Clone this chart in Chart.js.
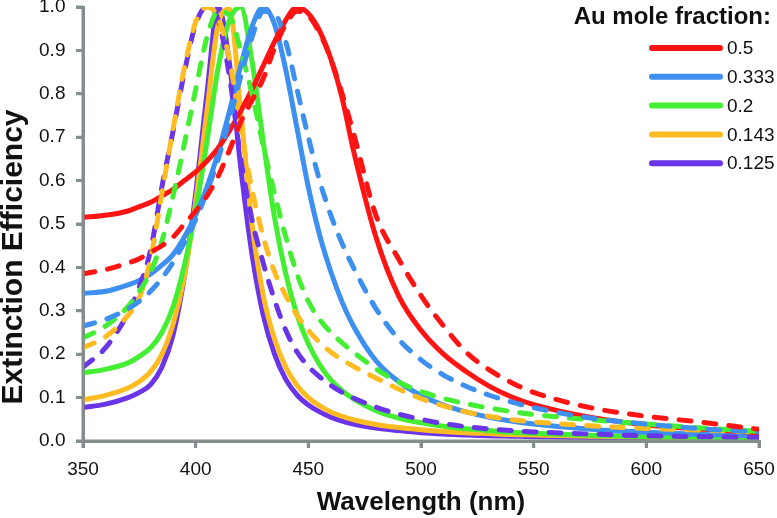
<!DOCTYPE html>
<html>
<head>
<meta charset="utf-8">
<script src="https://cdn.jsdelivr.net/npm/chart.js@4.4.1/dist/chart.umd.min.js"></script>
<style>
  html, body { margin: 0; padding: 0; background: #fff; }
  #wrap { width: 777px; height: 518px; }
</style>
</head>
<body>
<div id="wrap"><canvas id="spectra" width="777" height="518"></canvas></div>
<script>
// wavelength grid (nm) the curves were read at
const wavelength = [350, 360, 370, 375, 380, 385, 390, 395, 400, 405, 410, 415, 420, 425, 430, 435, 440, 445,
    450, 455, 460, 465, 470, 480, 490, 500, 510, 520, 530, 540, 550, 575, 600, 625, 650];

// Au mole fraction 0.5
const solid05 = [0.515, 0.52, 0.53, 0.54, 0.55, 0.565, 0.58, 0.60, 0.62, 0.645, 0.675, 0.715, 0.76, 0.81, 0.865, 0.92, 0.97, 1.0,
    0.985, 0.945, 0.88, 0.79, 0.67, 0.47, 0.335, 0.255, 0.2, 0.16, 0.127, 0.102, 0.084, 0.055, 0.037, 0.027, 0.019];
const dashed05 = [0.385, 0.395, 0.41, 0.42, 0.435, 0.45, 0.47, 0.5, 0.53, 0.565, 0.61, 0.67, 0.735, 0.785, 0.835, 0.905, 0.96, 0.99,
    0.98, 0.94, 0.88, 0.8, 0.71, 0.52, 0.42, 0.335, 0.265, 0.205, 0.165, 0.135, 0.112, 0.077, 0.057, 0.043, 0.027];
// 0.333
const solid0333 = [0.34, 0.345, 0.36, 0.37, 0.385, 0.405, 0.43, 0.47, 0.52, 0.585, 0.665, 0.76, 0.865, 0.955, 1.0, 0.96, 0.855, 0.72,
    0.585, 0.475, 0.39, 0.32, 0.265, 0.185, 0.137, 0.105, 0.083, 0.067, 0.055, 0.046, 0.039, 0.027, 0.02, 0.015, 0.012];
const dashed0333 = [0.265, 0.28, 0.305, 0.322, 0.345, 0.375, 0.412, 0.458, 0.51, 0.575, 0.65, 0.74, 0.84, 0.93, 0.99, 0.985, 0.92, 0.81,
    0.7, 0.6, 0.52, 0.455, 0.4, 0.305, 0.235, 0.187, 0.152, 0.126, 0.106, 0.09, 0.077, 0.053, 0.039, 0.028, 0.021];
// 0.2
const solid02 = [0.157, 0.165, 0.18, 0.195, 0.215, 0.25, 0.31, 0.405, 0.53, 0.69, 0.86, 0.97, 1.0, 0.875, 0.69, 0.515, 0.385, 0.29,
    0.224, 0.176, 0.141, 0.116, 0.097, 0.07, 0.053, 0.042, 0.034, 0.028, 0.024, 0.02, 0.018, 0.013, 0.01, 0.008, 0.007];
const dashed02 = [0.237, 0.265, 0.31, 0.345, 0.39, 0.46, 0.565, 0.685, 0.81, 0.93, 0.99, 0.98, 0.9, 0.8, 0.68, 0.57, 0.47, 0.385,
    0.322, 0.28, 0.25, 0.226, 0.205, 0.166, 0.136, 0.114, 0.098, 0.086, 0.076, 0.068, 0.061, 0.049, 0.039, 0.03, 0.022];
// 0.143
const solid0143 = [0.095, 0.105, 0.122, 0.137, 0.16, 0.2, 0.27, 0.38, 0.55, 0.76, 0.96, 0.995, 0.76, 0.5, 0.335, 0.235, 0.17, 0.128,
    0.1, 0.081, 0.067, 0.057, 0.049, 0.038, 0.031, 0.026, 0.022, 0.019, 0.017, 0.015, 0.014, 0.011, 0.009, 0.008, 0.007];
const dashed0143 = [0.215, 0.24, 0.29, 0.33, 0.42, 0.57, 0.72, 0.86, 0.965, 1.0, 0.975, 0.88, 0.72, 0.58, 0.47, 0.39, 0.335, 0.29,
    0.255, 0.227, 0.205, 0.187, 0.172, 0.145, 0.12, 0.098, 0.081, 0.067, 0.057, 0.049, 0.044, 0.035, 0.029, 0.025, 0.021];
// 0.125
const solid0125 = [0.077, 0.085, 0.1, 0.112, 0.13, 0.17, 0.245, 0.38, 0.57, 0.8, 1.0, 0.87, 0.63, 0.43, 0.29, 0.2, 0.142, 0.106,
    0.083, 0.067, 0.055, 0.046, 0.039, 0.03, 0.024, 0.019, 0.016, 0.014, 0.012, 0.011, 0.01, 0.008, 0.007, 0.006, 0.005];
const dashed0125 = [0.17, 0.215, 0.295, 0.355, 0.44, 0.585, 0.715, 0.85, 0.96, 1.0, 0.97, 0.84, 0.65, 0.51, 0.41, 0.325, 0.255, 0.205,
    0.172, 0.148, 0.128, 0.112, 0.099, 0.078, 0.062, 0.05, 0.04, 0.033, 0.028, 0.024, 0.021, 0.016, 0.012, 0.01, 0.008];

const fractions = ['0.5', '0.333', '0.2', '0.143', '0.125'];
const colors = ['#ff1414', '#3d8ff0', '#44ee33', '#ffbb22', '#6a35e8'];
const solidSets = [solid05, solid0333, solid02, solid0143, solid0125];
const dashedSets = [dashed05, dashed0333, dashed02, dashed0143, dashed0125];

const axisGray = '#848e8e';
const fontFam = '"Liberation Sans", Arial, Helvetica, sans-serif';

function toPoints(values) {
    return values.map((v, i) => ({ x: wavelength[i], y: v }));
}

function makeDatasets() {
    let sets = [];
    fractions.forEach((f, i) => {
        sets.push({
            label: f,
            data: toPoints(solidSets[i]),
            borderColor: colors[i],
            borderWidth: 5,
            order: 2,
        });
        sets.push({
            label: f + ' (dashed)',
            data: toPoints(dashedSets[i]),
            borderColor: colors[i],
            borderWidth: 5,
            borderDash: [12, 13],
            borderCapStyle: 'round',
            order: 1,
        });
    });
    return sets;
}

// gray axis lines with outside tick marks, on top of everything
const axes = {
    id: 'axes',
    afterDraw(chart) {
        const ctx = chart.ctx;
        const a = chart.chartArea;
        const xs = chart.scales.x;
        const ys = chart.scales.y;
        ctx.save();
        ctx.setLineDash([]);
        ctx.strokeStyle = axisGray;
        ctx.lineWidth = 3;
        ctx.beginPath();
        ctx.moveTo(a.left, a.top);
        ctx.lineTo(a.left, a.bottom);
        ctx.lineTo(a.right, a.bottom);
        ctx.stroke();
        ctx.beginPath();
        xs.ticks.forEach(t => {
            const px = xs.getPixelForValue(t.value);
            ctx.moveTo(px, a.bottom);
            ctx.lineTo(px, a.bottom + 7);
        });
        ys.ticks.forEach(t => {
            const py = ys.getPixelForValue(t.value);
            ctx.moveTo(a.left, py);
            ctx.lineTo(a.left - 7, py);
        });
        ctx.stroke();
        ctx.restore();
    }
};

// y title and the legend (solid entries only, like the original)
const decorations = {
    id: 'decorations',
    afterDraw(chart) {
        const ctx = chart.ctx;
        ctx.save();
        ctx.fillStyle = '#111';
        ctx.textBaseline = 'middle';

        ctx.save();
        ctx.translate(14, 257);
        ctx.rotate(-Math.PI / 2);
        ctx.font = 'bold 30px ' + fontFam;
        ctx.textAlign = 'center';
        ctx.fillText('Extinction Efficiency', 0, 0);
        ctx.restore();

        ctx.font = 'bold 24px ' + fontFam;
        ctx.textAlign = 'right';
        ctx.fillText('Au mole fraction:', 771, 17);
        fractions.forEach((f, i) => {
            const y = 48 + i * 28.8;
            ctx.strokeStyle = colors[i];
            ctx.lineWidth = 6;
            ctx.lineCap = 'round';
            ctx.beginPath();
            ctx.moveTo(652, y);
            ctx.lineTo(720, y);
            ctx.stroke();
            ctx.font = '19px ' + fontFam;
            ctx.textAlign = 'left';
            ctx.fillText(f, 727, y + 1);
        });
        ctx.restore();
    }
};

function buildChart() {
    const ctx = document.getElementById('spectra').getContext('2d');
    new Chart(ctx, {
        type: 'line',
        data: { datasets: makeDatasets() },
        options: {
            responsive: false,
            animation: false,
            layout: { padding: { top: 7, right: 18, left: 0, bottom: 0 } },
            elements: {
                point: { radius: 0 },
                line: { cubicInterpolationMode: 'monotone', fill: false }
            },
            plugins: { legend: { display: false }, tooltip: { enabled: false } },
            scales: {
                x: {
                    type: 'linear',
                    min: 350,
                    max: 650,
                    border: { color: axisGray, width: 3 },
                    grid: { drawOnChartArea: false, color: axisGray, lineWidth: 3, tickLength: 7 },
                    // tall line height moves the labels down without adding side padding
                    ticks: { stepSize: 50, color: '#111', padding: 0, font: { family: fontFam, size: 19, lineHeight: 2.3 } },
                    title: {
                        display: true, text: 'Wavelength (nm)', color: '#111',
                        font: { family: fontFam, size: 26, weight: 'bold' }, padding: { top: 0, bottom: 0 }
                    },
                    afterFit(scale) { scale.height = 77; }
                },
                y: {
                    min: 0,
                    max: 1,
                    border: { color: axisGray, width: 3 },
                    grid: { drawOnChartArea: false, color: axisGray, lineWidth: 3, tickLength: 7 },
                    ticks: {
                        stepSize: 0.1, color: '#111', padding: 0,
                        font: { family: fontFam, size: 19, lineHeight: 0.6 },
                        callback: v => v.toFixed(1) + '  '
                    },
                    afterFit(scale) { scale.width = 83; }
                }
            }
        },
        plugins: [axes, decorations]
    });
}

buildChart();
</script>
</body>
</html>
